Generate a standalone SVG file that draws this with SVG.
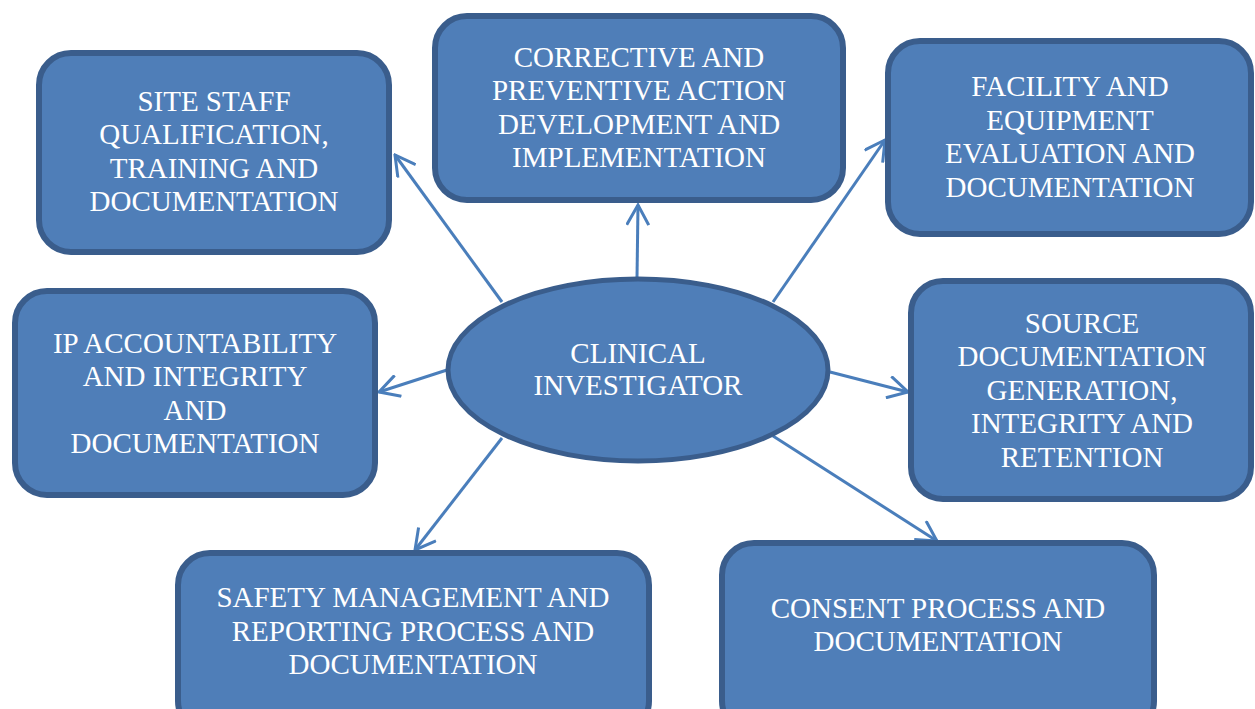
<svg xmlns="http://www.w3.org/2000/svg" width="1255" height="709" viewBox="0 0 1255 709">
<style>
.box{fill:#4f7eb8;stroke:#3a5d8c;stroke-width:6}
.ell{fill:#4f7eb8;stroke:#3a5d8c;stroke-width:5}
.t{font-family:"Liberation Serif","Times New Roman",serif;font-size:29px;fill:#ffffff;text-anchor:middle}
.c{stroke:#4a7ebb;stroke-width:3;fill:none;marker-end:url(#ah)}
</style>
<defs>
<marker id="ah" viewBox="0 0 24 24" refX="22" refY="12" markerWidth="24" markerHeight="24" markerUnits="userSpaceOnUse" orient="auto">
<path d="M2,1 L22,12 L2,23" fill="none" stroke="#4a7ebb" stroke-width="3"/>
</marker>
</defs>
<rect width="1255" height="709" fill="#ffffff"/>
<g id="connectors">
<line class="c" x1="502" y1="302" x2="395" y2="155"/>
<line class="c" x1="637" y1="278" x2="638" y2="205"/>
<line class="c" x1="773" y1="302" x2="885" y2="140"/>
<line class="c" x1="447" y1="370" x2="379" y2="392"/>
<line class="c" x1="830" y1="372" x2="908" y2="392"/>
<line class="c" x1="502" y1="438" x2="415" y2="550"/>
<line class="c" x1="773" y1="436" x2="937" y2="541"/>
</g>
<g id="site-staff">
<rect class="box" x="39" y="53" width="350" height="199" rx="32"/>
<text class="t" x="214" y="111">SITE STAFF</text>
<text class="t" x="214" y="144">QUALIFICATION,</text>
<text class="t" x="214" y="178">TRAINING AND</text>
<text class="t" x="214" y="211">DOCUMENTATION</text>
</g>
<g id="corrective">
<rect class="box" x="435" y="16" width="408" height="184" rx="32"/>
<text class="t" x="639" y="67">CORRECTIVE AND</text>
<text class="t" x="639" y="100">PREVENTIVE ACTION</text>
<text class="t" x="639" y="134">DEVELOPMENT AND</text>
<text class="t" x="639" y="167">IMPLEMENTATION</text>
</g>
<g id="facility">
<rect class="box" x="888" y="41" width="363" height="193" rx="32"/>
<text class="t" x="1070" y="96">FACILITY AND</text>
<text class="t" x="1070" y="130">EQUIPMENT</text>
<text class="t" x="1070" y="163">EVALUATION AND</text>
<text class="t" x="1070" y="197">DOCUMENTATION</text>
</g>
<g id="ip-accountability">
<rect class="box" x="15" y="291" width="360" height="204" rx="32"/>
<text class="t" x="195" y="353">IP ACCOUNTABILITY</text>
<text class="t" x="195" y="386">AND INTEGRITY</text>
<text class="t" x="195" y="420">AND</text>
<text class="t" x="195" y="453">DOCUMENTATION</text>
</g>
<g id="source">
<rect class="box" x="911" y="281" width="340" height="218" rx="32"/>
<text class="t" x="1082" y="333">SOURCE</text>
<text class="t" x="1082" y="366">DOCUMENTATION</text>
<text class="t" x="1082" y="400">GENERATION,</text>
<text class="t" x="1082" y="433">INTEGRITY AND</text>
<text class="t" x="1082" y="467">RETENTION</text>
</g>
<g id="safety">
<rect class="box" x="178" y="553" width="471" height="180" rx="32"/>
<text class="t" x="413" y="607">SAFETY MANAGEMENT AND</text>
<text class="t" x="413" y="641">REPORTING PROCESS AND</text>
<text class="t" x="413" y="674">DOCUMENTATION</text>
</g>
<g id="consent">
<rect class="box" x="722" y="543" width="432" height="190" rx="32"/>
<text class="t" x="938" y="618">CONSENT PROCESS AND</text>
<text class="t" x="938" y="651">DOCUMENTATION</text>
</g>
<g id="clinical-investigator">
<ellipse class="ell" cx="638" cy="370" rx="190" ry="91"/>
<text class="t" x="638" y="363">CLINICAL</text>
<text class="t" x="638" y="395">INVESTIGATOR</text>
</g>
</svg>
